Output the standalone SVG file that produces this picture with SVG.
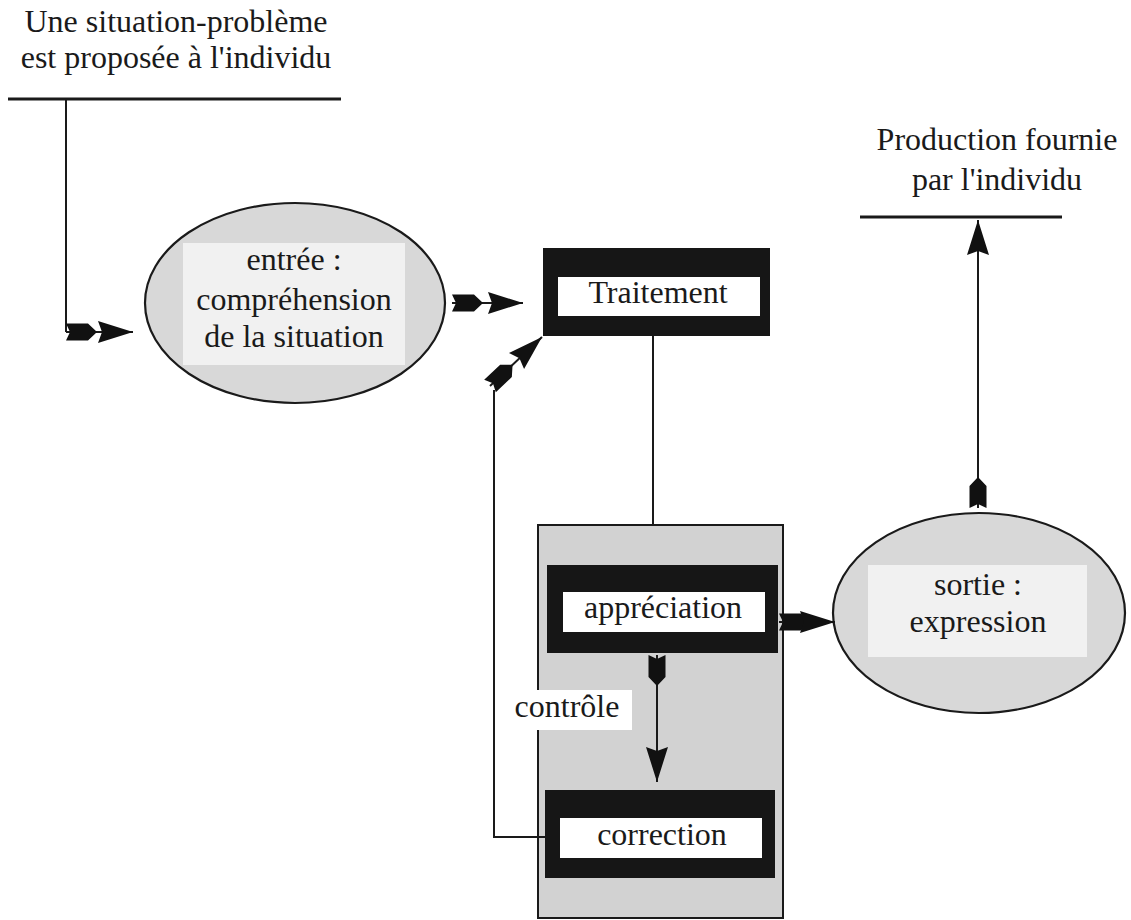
<svg xmlns="http://www.w3.org/2000/svg" width="1131" height="920" viewBox="0 0 1131 920">
  <style>
    .t { font-family: "Liberation Serif", "Times New Roman", serif; font-size: 32px; fill: #1a1a1a; text-anchor: middle; }
    .ln { fill: none; stroke: #1a1a1a; stroke-width: 2; }
    .bar { fill: none; stroke: #1a1a1a; stroke-width: 3; }
    .ell { fill: #d8d8d8; stroke: #1a1a1a; stroke-width: 2.2; }
    .inner { fill: #f1f1f1; }
    .dark { fill: #161616; }
    .white { fill: #ffffff; }
    .zone { fill: #d2d2d2; stroke: #1a1a1a; stroke-width: 2; }
    .arr { fill: none; stroke: #1a1a1a; stroke-width: 2; }
    .ah { fill: #111111; }
  </style>
  <defs>
    <marker id="tail" markerUnits="userSpaceOnUse" orient="auto" refX="0" refY="0" markerWidth="40" markerHeight="30" overflow="visible">
      <path class="ah" d="M0,-8.5 L22,-8.5 L31,0 L22,8.5 L0,8.5 L4,0 Z"/>
    </marker>
    <marker id="head" markerUnits="userSpaceOnUse" orient="auto" refX="0" refY="0" markerWidth="40" markerHeight="30" overflow="visible">
      <path class="ah" d="M0,0 L-35,-11 L-31,0 L-35,11 Z"/>
    </marker>
  </defs>

  <g id="node-situation">
    <text class="t" x="176" y="32">Une situation-problème</text>
    <text class="t" x="176" y="68">est proposée à l'individu</text>
    <line class="bar" x1="8" y1="99" x2="341" y2="99"/>
  </g>

  <g id="node-production">
    <text class="t" x="997" y="150">Production fournie</text>
    <text class="t" x="997" y="190">par l'individu</text>
    <line class="bar" x1="860" y1="217" x2="1062" y2="217"/>
  </g>

  <g id="node-entree">
    <ellipse class="ell" cx="295" cy="303" rx="150" ry="100"/>
    <rect class="inner" x="183" y="243" width="222" height="122"/>
    <text class="t" x="294" y="270">entrée :</text>
    <text class="t" x="294" y="310">compréhension</text>
    <text class="t" x="294" y="347">de la situation</text>
  </g>

  <g id="node-traitement">
    <rect class="dark" x="543" y="248" width="227" height="88"/>
    <rect class="white" x="558" y="277" width="202" height="39"/>
    <text class="t" x="658" y="303">Traitement</text>
  </g>

  <g id="node-zone">
    <rect class="zone" x="538" y="525" width="245" height="393"/>
  </g>

  <g id="node-appreciation">
    <rect class="dark" x="547" y="565" width="231" height="88"/>
    <rect class="white" x="563" y="592" width="202" height="40"/>
    <text class="t" x="663" y="618">appréciation</text>
  </g>

  <g id="node-correction">
    <rect class="dark" x="545" y="790" width="230" height="88"/>
    <rect class="white" x="560" y="818" width="202" height="40"/>
    <text class="t" x="662" y="845">correction</text>
  </g>

  <g id="node-sortie">
    <ellipse class="ell" cx="979" cy="613" rx="146" ry="100"/>
    <rect class="inner" x="868" y="565" width="219" height="92"/>
    <text class="t" x="978" y="595">sortie :</text>
    <text class="t" x="978" y="632">expression</text>
  </g>

  <g id="connectors">
    <path class="ln" d="M66,99 V332"/>
    <path class="arr" d="M66,332 H133" marker-start="url(#tail)" marker-end="url(#head)"/>
    <path class="arr" d="M452,303 H523" marker-start="url(#tail)" marker-end="url(#head)"/>
    <path class="ln" d="M653,336 V525"/>
    <path class="arr" d="M779,622 H835" marker-start="url(#tail)" marker-end="url(#head)"/>
    <path class="arr" d="M978,508 V220" marker-start="url(#tail)" marker-end="url(#head)"/>
    <path class="arr" d="M657,655 V782" marker-start="url(#tail)" marker-end="url(#head)"/>
    <path class="ln" d="M545,837 H494 V390"/>
    <path class="arr" d="M490,386 L542,337" marker-start="url(#tail)" marker-end="url(#head)"/>
    <g id="label-controle">
      <rect class="white" x="504" y="690" width="128" height="40"/>
      <text class="t" x="567" y="717">contrôle</text>
    </g>
  </g>
</svg>
